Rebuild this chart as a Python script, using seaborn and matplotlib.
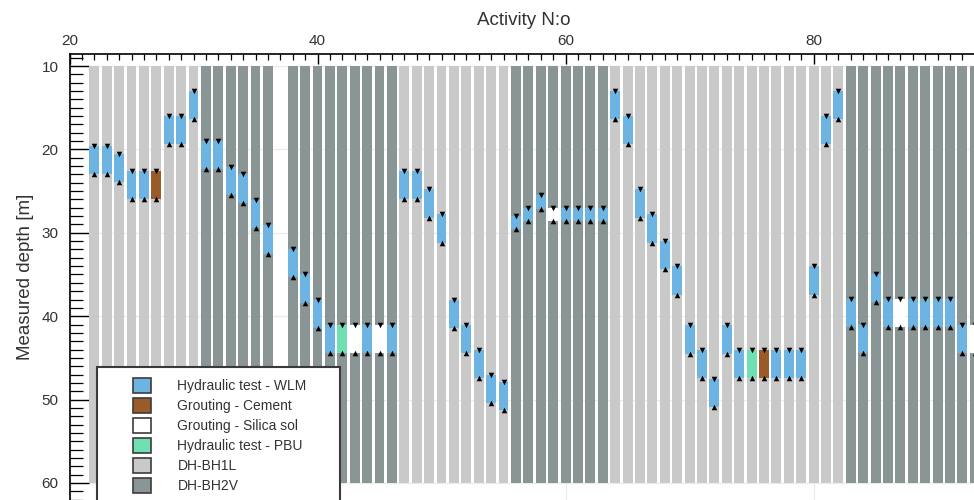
import matplotlib
matplotlib.use("Agg")
import matplotlib.pyplot as plt
from matplotlib.patches import Patch, Rectangle
from matplotlib.ticker import MultipleLocator
import pandas as pd
import seaborn as sns

# Activity numbers along the borehole programme
activity = [22, 23, 24, 25, 26, 27, 28, 29, 30, 31, 32, 33, 34, 35, 36,
            38, 39, 40, 41, 42, 43, 44, 45, 46,
            47, 48, 49, 50, 51, 52, 53, 54, 55,
            56, 57, 58, 59, 60, 61, 62, 63,
            64, 65, 66, 67, 68, 69, 70, 71, 72, 73, 74, 75, 76, 77, 78, 79, 80, 81, 82,
            83, 84, 85, 86, 87, 88, 89, 90, 91, 92, 93]

borehole = (["DH-BH1L"] * 9 + ["DH-BH2V"] * 6 + ["DH-BH2V"] * 9 + ["DH-BH1L"] * 9
            + ["DH-BH2V"] * 8 + ["DH-BH1L"] * 19 + ["DH-BH2V"] * 11)

# Test / grouting section limits [m]
top_depth = [19.55, 19.55, 20.55, 22.55, 22.55, 22.55, 15.95, 15.95, 13.0, 19.0, 19.0, 22.05, 23.0, 26.05, 29.1,
             31.95, 35.0, 38.05, 41.05, 41.05, 41.05, 41.05, 41.05, 41.05,
             22.55, 22.55, 24.8, 27.8, 38.0, 41.0, 44.0, 47.0, 47.9,
             28.0, 27.0, 25.5, 27.0, 27.0, 27.0, 27.0, 27.0,
             13.0, 16.0, 24.8, 27.8, 31.0, 34.0, 41.1, 44.05, 47.5, 41.1, 44.05, 44.05, 44.05, 44.05, 44.05, 44.05,
             34.0, 16.0, 13.0,
             37.95, 41.0, 34.95, 37.95, 37.95, 37.95, 37.95, 37.95, 37.95, 41.0, 41.0]

bottom_depth = [22.95, 22.95, 23.95, 25.95, 25.95, 25.95, 19.35, 19.35, 16.4, 22.4, 22.4, 25.45, 26.4, 29.45, 32.5,
                35.35, 38.4, 41.45, 44.45, 44.45, 44.45, 44.45, 44.45, 44.45,
                25.95, 25.95, 28.2, 31.2, 41.4, 44.4, 47.4, 50.4, 51.3,
                29.6, 28.6, 27.1, 28.6, 28.6, 28.6, 28.6, 28.6,
                16.4, 19.4, 28.2, 31.2, 34.4, 37.4, 44.5, 47.4, 50.9, 44.5, 47.4, 47.4, 47.4, 47.4, 47.4, 47.4,
                37.4, 19.4, 16.4,
                41.35, 44.4, 38.35, 41.35, 41.35, 41.35, 41.35, 41.35, 41.35, 44.4, 44.4]

WLM, CEM, SIL, PBU = "Hydraulic test - WLM", "Grouting - Cement", "Grouting - Silica sol", "Hydraulic test - PBU"
activity_type = [WLM] * len(activity)
for n, kind in [(27, CEM), (42, PBU), (43, SIL), (45, SIL), (59, SIL),
                (75, PBU), (76, CEM), (87, SIL), (93, SIL)]:
    activity_type[activity.index(n)] = kind

borehole_top, borehole_bottom = 10, 60

type_colors = {WLM: "#6db4e3", CEM: "#9a5b2b", SIL: "#ffffff", PBU: "#6ee0b1"}
hole_colors = {"DH-BH1L": "#c9c9c9", "DH-BH2V": "#8a9696"}

df = pd.DataFrame({"activity": activity, "borehole": borehole, "top": top_depth,
                   "bottom": bottom_depth, "type": activity_type})

sns.set_theme(style="white")
plt.rcParams["font.family"] = ["Liberation Sans", "DejaVu Sans"]
text_color = "#333333"

fig = plt.figure(figsize=(9.74, 5.0), dpi=100)
W, H = 974, 500
ax = fig.add_axes([69.5 / W, 0.0, (978.5 - 69.5) / W, (500 - 54) / H])

# Borehole columns
ax.bar(df["activity"], borehole_bottom - borehole_top, bottom=borehole_top, width=0.8,
       color=[hole_colors[b] for b in df["borehole"]], linewidth=0, zorder=1)

# Test sections
ax.bar(df["activity"], df["bottom"] - df["top"], bottom=df["top"], width=0.8,
       color=[type_colors[t] for t in df["type"]], linewidth=0, zorder=2)

# Section limit markers
sns.scatterplot(data=df, x="activity", y="top", marker="v", color="black", s=16,
                linewidth=0, ax=ax, zorder=3, legend=False)
sns.scatterplot(data=df, x="activity", y="bottom", marker="^", color="black", s=16,
                linewidth=0, ax=ax, zorder=3, legend=False)

ax.set_xlim(20, 93.3)
ax.set_ylim(62.04, 8.56)

ax.xaxis.tick_top()
ax.xaxis.set_label_position("top")
ax.xaxis.set_major_locator(MultipleLocator(20))
ax.xaxis.set_minor_locator(MultipleLocator(1))
ax.yaxis.set_major_locator(MultipleLocator(10))
ax.yaxis.set_minor_locator(MultipleLocator(1))

ax.tick_params(axis="x", which="major", direction="in", length=7, width=1.0, pad=4,
               labelsize=11, colors="black", labelcolor=text_color, top=True, bottom=False)
ax.tick_params(axis="x", which="minor", direction="in", length=4.5, width=0.9, top=True, bottom=False,
               colors="black")
ax.tick_params(axis="y", which="major", direction="in", length=14, width=1.0, pad=8,
               labelsize=11, colors="black", labelcolor=text_color, left=True)
ax.tick_params(axis="y", which="minor", direction="in", length=9, width=0.9, left=True, colors="black")

ax.set_xlabel("Activity N:o", fontsize=13.5, color=text_color, labelpad=7)
ax.set_ylabel("Measured depth [m]", fontsize=13.5, color=text_color, labelpad=5)

ax.grid(True, which="major", color="#ececec", linewidth=1.0)
ax.set_axisbelow(True)
for side in ["right", "bottom"]:
    ax.spines[side].set_visible(False)
for side in ["top", "left"]:
    ax.spines[side].set_color("black")
    ax.spines[side].set_linewidth(1.2)

# Legend box
box = Rectangle((96.7 / W, -0.05), (339.5 - 96.7) / W, (1 - 366.7 / H) + 0.05,
                transform=fig.transFigure, facecolor="white", edgecolor="#3a3a3a",
                linewidth=1.5, zorder=4)
fig.patches.append(box)

handles = [Patch(facecolor=type_colors[k], edgecolor="#3c3c3c", linewidth=1.2, label=k)
           for k in [WLM, CEM, SIL, PBU]]
handles += [Patch(facecolor=hole_colors[k], edgecolor="#3c3c3c", linewidth=1.2, label=k)
            for k in ["DH-BH1L", "DH-BH2V"]]
leg = fig.legend(handles=handles, loc="upper left", bbox_to_anchor=(133 / W, 1 - 377.5 / H),
                 frameon=False, fontsize=10, borderpad=0, borderaxespad=0,
                 handlelength=1.3, handleheight=1.3, handletextpad=1.9, labelspacing=0.35)
leg.set_zorder(5)
for t in leg.get_texts():
    t.set_color(text_color)

fig.savefig("out.png", dpi=100)
